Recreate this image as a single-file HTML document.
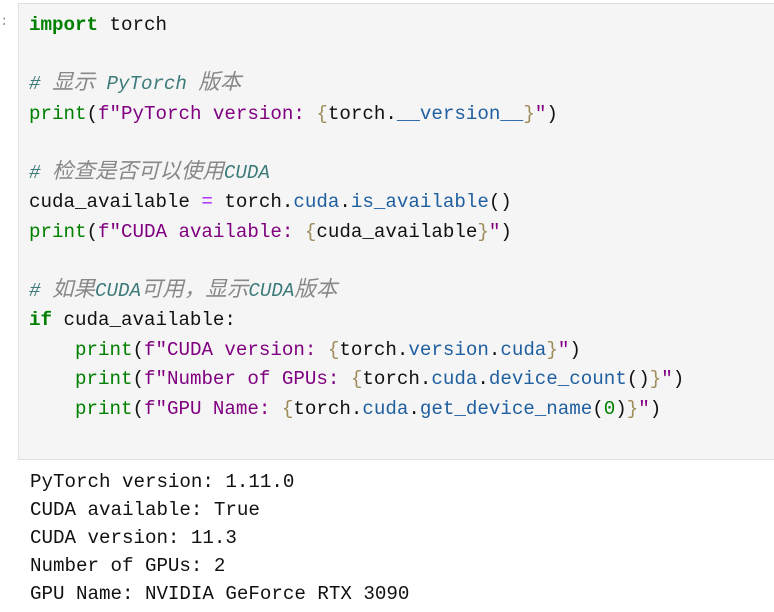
<!DOCTYPE html>
<html><head><meta charset="utf-8"><style>
html,body{margin:0;padding:0;background:#fff;width:774px;height:612px;overflow:hidden}
.p{position:absolute;left:0;top:14px;width:4px;height:14px;color:#999;font:14px "Liberation Mono",monospace}
.cell{position:absolute;left:18px;top:3px;width:760px;height:457px;background:#f5f5f5;border:1px solid #e0e0e0;box-sizing:border-box}
pre{margin:0;font-family:"Liberation Mono","Noto Sans CJK SC",monospace;font-size:19.2px;letter-spacing:-0.02px}
.code{position:absolute;left:29px;top:11px;line-height:29.5px;color:#111}
.out{position:absolute;left:30px;top:468px;line-height:28px;color:#111}
.k{color:#008000;font-weight:bold}.b{color:#008000}.c{color:#3d7a7a;font-style:italic}.cj{color:#888;font-style:italic;font-size:21.5px;line-height:0}
.s{color:#800080}.br{color:#a08c5a}.a{color:#1f5fa0}.o{color:#aa22ff}.n{color:#008000}
</style></head><body>
<div class="p">:</div>
<div class="cell"></div>
<pre class="code"><span class="k">import</span> torch

<span class="c"># <span class="cj">显示</span> PyTorch <span class="cj">版本</span></span>
<span class="b">print</span>(<span class="s">f"PyTorch version: </span><span class="br">{</span>torch.<span class="a">__version__</span><span class="br">}</span><span class="s">"</span>)

<span class="c"># <span class="cj">检查是否可以使用</span>CUDA</span>
cuda_available <span class="o">=</span> torch.<span class="a">cuda</span>.<span class="a">is_available</span>()
<span class="b">print</span>(<span class="s">f"CUDA available: </span><span class="br">{</span>cuda_available<span class="br">}</span><span class="s">"</span>)

<span class="c"># <span class="cj">如果</span>CUDA<span class="cj">可用，显示</span>CUDA<span class="cj">版本</span></span>
<span class="k">if</span> cuda_available:
    <span class="b">print</span>(<span class="s">f"CUDA version: </span><span class="br">{</span>torch.<span class="a">version</span>.<span class="a">cuda</span><span class="br">}</span><span class="s">"</span>)
    <span class="b">print</span>(<span class="s">f"Number of GPUs: </span><span class="br">{</span>torch.<span class="a">cuda</span>.<span class="a">device_count</span>()<span class="br">}</span><span class="s">"</span>)
    <span class="b">print</span>(<span class="s">f"GPU Name: </span><span class="br">{</span>torch.<span class="a">cuda</span>.<span class="a">get_device_name</span>(<span class="n">0</span>)<span class="br">}</span><span class="s">"</span>)</pre>
<pre class="out">PyTorch version: 1.11.0
CUDA available: True
CUDA version: 11.3
Number of GPUs: 2
GPU Name: NVIDIA GeForce RTX 3090</pre>
</body></html>
